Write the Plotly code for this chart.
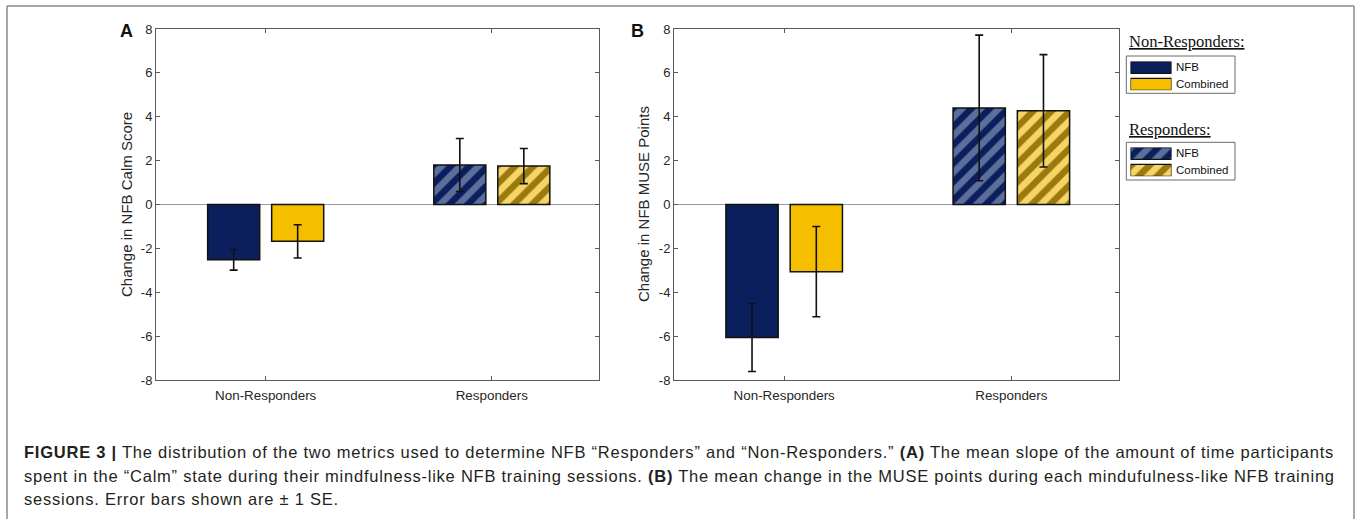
import plotly.graph_objects as go

# ---------------- data ----------------
categories = ["Non-Responders", "Responders"]
groups = ["NFB", "Combined"]

calm_nfb = [-2.52, 1.80]
calm_nfb_se = [0.47, 1.21]
calm_comb = [-1.68, 1.75]
calm_comb_se = [0.76, 0.80]

muse_nfb = [-6.06, 4.40]
muse_nfb_se = [1.55, 3.32]
muse_comb = [-3.06, 4.27]
muse_comb_se = [2.06, 2.56]

y_ticks = [-8, -6, -4, -2, 0, 2, 4, 6, 8]
y_tick_labels = ["-8", "-6", "-4", "-2", "0", "2", "4", "6", "8"]
legend_titles = ["Non-Responders:", "Responders:"]
caption_lines = [
    "<b>FIGURE 3 |</b> The distribution of the two metrics used to determine NFB \u201cResponders\u201d and \u201cNon-Responders.\u201d <b>(A)</b> The mean slope of the amount of time participants",
    "spent in the \u201cCalm\u201d state during their mindfulness-like NFB training sessions. <b>(B)</b> The mean change in the MUSE points during each mindufulness-like NFB training",
    "sessions. Error bars shown are \u00b1 1 SE.",
]

# ---------------- style ----------------
W, H = 1357, 519
NAVY = "#0b1f5c"
NAVY_LIGHT = "#5c6f9c"
GOLD = "#f5bf00"
GOLD_LIGHT = "#f6d566"
GOLD_DARK = "#9a7a10"
AXC = "#5a5a5a"
TXT = "#262626"
FONT = "Liberation Sans, Arial, sans-serif"


def px_x(x):
    return x / W


def px_y(y):
    return 1 - y / H


# solid colour (non-responders), hatch background and hatch stripes (responders)
solid = {"NFB": NAVY, "Combined": GOLD}
hatch_bg = {"NFB": NAVY, "Combined": GOLD_LIGHT}
hatch_fg = {"NFB": NAVY_LIGHT, "Combined": GOLD_DARK}
shapes_pat = ["", "/"]

fig = go.Figure()


def add_panel(xa, ya, nfb, nfb_se, comb, comb_se):
    for vals, se, name in [(nfb, nfb_se, "NFB"), (comb, comb_se, "Combined")]:
        fig.add_trace(go.Bar(
            x=categories, y=vals, name=name, xaxis=xa, yaxis=ya,
            marker=dict(
                color=solid[name],
                line=dict(color="#111111", width=1.5),
                pattern=dict(shape=shapes_pat, bgcolor=hatch_bg[name],
                             fgcolor=hatch_fg[name], fgopacity=1,
                             size=13, solidity=0.5, fillmode="overlay"),
            ),
            error_y=dict(type="data", array=se, visible=True,
                         color="#111111", thickness=1.6, width=4),
            showlegend=False,
        ))


add_panel("x", "y", calm_nfb, calm_nfb_se, calm_comb, calm_comb_se)
add_panel("x2", "y2", muse_nfb, muse_nfb_se, muse_comb, muse_comb_se)

# legend swatches drawn as real patterned bars on small helper axes
for ya, idx in [("y3", 0), ("y4", 1)]:
    for pos, name in enumerate(groups):
        fig.add_trace(go.Bar(
            x=[1], y=[pos], orientation="h", xaxis="x3", yaxis=ya, width=0.7,
            marker=dict(
                color=solid[name],
                line=dict(color="#111111", width=1.2),
                pattern=dict(shape=shapes_pat[idx], bgcolor=hatch_bg[name],
                             fgcolor=hatch_fg[name], fgopacity=1,
                             size=13, solidity=0.5, fillmode="overlay"),
            ),
            showlegend=False, hoverinfo="skip",
        ))

ydom = [px_y(380), px_y(29)]
common_y = dict(range=[-8, 8], tickvals=y_ticks, ticktext=y_tick_labels,
                ticks="inside", ticklen=4, automargin=False,
                showline=True, linecolor=AXC, linewidth=1, mirror="ticks",
                tickcolor=AXC, showgrid=False, zeroline=True,
                zerolinecolor="#9a9a9a", zerolinewidth=1,
                tickfont=dict(family=FONT, size=13, color=TXT))
common_x = dict(type="category", range=[-0.485, 1.474], ticks="inside",
                ticklen=4, showline=True, linecolor=AXC, linewidth=1,
                automargin=False, ticklabelstandoff=3,
                mirror="ticks", tickcolor=AXC, showgrid=False,
                tickfont=dict(family=FONT, size=13.4, color=TXT))

fig.update_layout(
    width=W, height=H,
    margin=dict(l=0, r=0, t=0, b=0, pad=0, autoexpand=False),
    paper_bgcolor="white", plot_bgcolor="white",
    barmode="group", bargap=0.434, bargroupgap=0.187,
    font=dict(family=FONT, color=TXT),
    xaxis=dict(domain=[px_x(156), px_x(599)], anchor="y", **common_x),
    yaxis=dict(domain=ydom, anchor="x", **common_y),
    xaxis2=dict(domain=[px_x(674), px_x(1119)], anchor="y2", **common_x),
    yaxis2=dict(domain=ydom, anchor="x2", **common_y),
    xaxis3=dict(domain=[px_x(1130.5), px_x(1171.5)], anchor="y3", range=[0, 1],
                visible=False, fixedrange=True, automargin=False),
    yaxis3=dict(domain=[px_y(90.2), px_y(61.6)], anchor="x3",
                range=[1.347, -0.347], visible=False, fixedrange=True,
                automargin=False),
    yaxis4=dict(domain=[px_y(176.2), px_y(147.6)], anchor="x3",
                range=[1.347, -0.347], visible=False, fixedrange=True,
                automargin=False),
)

annotations = []
# panel letters
for letter, xc in [("A", 126.5), ("B", 637.5)]:
    annotations.append(dict(text=f"<b>{letter}</b>", x=px_x(xc), y=px_y(31),
                            xref="paper", yref="paper", showarrow=False,
                            xanchor="center", yanchor="middle",
                            font=dict(family=FONT, size=18, color="#111111")))
# axis titles
for title, xc in [("Change in NFB Calm Score", 126.5),
                  ("Change in NFB MUSE Points", 643.5)]:
    annotations.append(dict(text=title, x=px_x(xc), y=px_y(204.5),
                            xref="paper", yref="paper", showarrow=False,
                            textangle=-90, xanchor="center", yanchor="middle",
                            font=dict(family=FONT, size=15, color=TXT)))
# legend titles and labels
for t, yc in zip(legend_titles, [42, 129]):
    annotations.append(dict(text=f"<u>{t}</u>", x=px_x(1126.5), y=px_y(yc),
                            xref="paper", yref="paper", showarrow=False,
                            xanchor="left", yanchor="middle",
                            font=dict(family="Liberation Serif, Times New Roman, serif",
                                      size=16.5, color="#111111")))
for base in [67.5, 153.4]:
    for g, dy in zip(groups, [0, 16.7]):
        annotations.append(dict(text=g, x=px_x(1174), y=px_y(base + dy),
                                xref="paper", yref="paper", showarrow=False,
                                xanchor="left", yanchor="middle",
                                font=dict(family=FONT, size=11.5, color="#111111")))
# caption
for line, yc in zip(caption_lines, [452, 475.5, 499]):
    annotations.append(dict(text=f'<span style="letter-spacing:0.76px">{line}</span>',
                            x=px_x(22), y=px_y(yc),
                            xref="paper", yref="paper", showarrow=False,
                            xanchor="left", yanchor="middle",
                            font=dict(family=FONT, size=16.5, color="#231f20")))
fig.update_layout(annotations=annotations)

shapes = []
# legend boxes
for y0, y1 in [(56, 93.3), (142.3, 180)]:
    shapes.append(dict(type="rect", xref="paper", yref="paper",
                       x0=px_x(1126.3), x1=px_x(1235), y0=px_y(y1), y1=px_y(y0),
                       line=dict(color="#6a6a6a", width=1), fillcolor="rgba(0,0,0,0)",
                       layer="below"))
# outer frame (open at the bottom)
frame = "#8a8a8a"
shapes.append(dict(type="line", xref="paper", yref="paper", x0=px_x(7), x1=px_x(7),
                   y0=0, y1=px_y(6), line=dict(color=frame, width=1.5)))
shapes.append(dict(type="line", xref="paper", yref="paper", x0=px_x(1354), x1=px_x(1354),
                   y0=0, y1=px_y(6), line=dict(color=frame, width=1.5)))
shapes.append(dict(type="line", xref="paper", yref="paper", x0=px_x(7), x1=px_x(1354),
                   y0=px_y(6), y1=px_y(6), line=dict(color=frame, width=1.5)))
fig.update_layout(shapes=shapes)

fig.write_html("out.html", config={"displayModeBar": False},
               post_script="document.body.style.margin='0';document.body.style.overflow='hidden';")
